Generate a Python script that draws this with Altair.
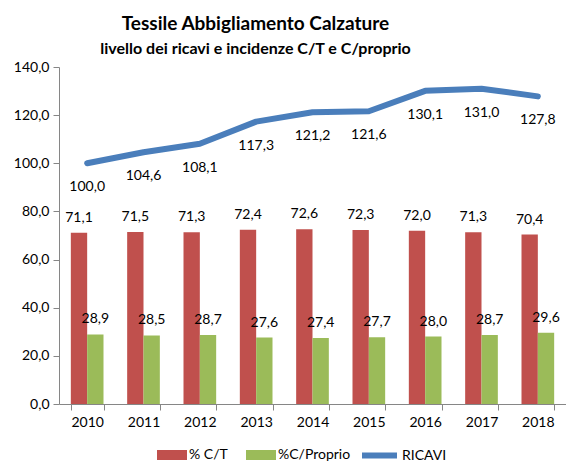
import altair as alt
import pandas as pd

years = ["2010", "2011", "2012", "2013", "2014", "2015", "2016", "2017", "2018"]
ct = [71.1, 71.5, 71.3, 72.4, 72.6, 72.3, 72.0, 71.3, 70.4]
cp = [28.9, 28.5, 28.7, 27.6, 27.4, 27.7, 28.0, 28.7, 29.6]
ricavi = [100.0, 104.6, 108.1, 117.3, 121.2, 121.6, 130.1, 131.0, 127.8]
bar_series = ["% C/T", "%C/Proprio"]
line_series = ["RICAVI"]

bars_df = pd.DataFrame({
    "year": years * 2,
    "serie": [bar_series[0]] * len(years) + [bar_series[1]] * len(years),
    "val": ct + cp,
})
line_df = pd.DataFrame({"year": years, "serie": line_series * len(years), "val": ricavi})

FONT = "Lato"
AX = "#868686"
LAB = "replace(format(datum.val,'.1f'),'.',',')"

x = alt.X("year:N", title=None,
          scale=alt.Scale(paddingInner=0.42, paddingOuter=0.21),
          axis=alt.Axis(labelAngle=0, tickBand="extent", domainColor=AX, tickColor=AX,
                        labelFontSize=14, labelFont=FONT, labelColor="#000",
                        labelPadding=5, tickSize=6))
y = alt.Y("val:Q", title=None,
          scale=alt.Scale(domain=[0, 140], nice=False),
          axis=alt.Axis(values=list(range(0, 141, 20)),
                        labelExpr="replace(format(datum.value,'.1f'),'.',',')",
                        grid=False, domainColor=AX, tickColor=AX, tickSize=6,
                        labelFontSize=14, labelFont=FONT, labelColor="#000",
                        labelPadding=4))
xoff = alt.XOffset("serie:N", sort=bar_series, scale=alt.Scale(paddingInner=0, paddingOuter=0))

bars = alt.Chart(bars_df).mark_bar().encode(
    x=x, xOffset=xoff, y=y,
    fill=alt.Fill("serie:N", sort=bar_series,
                  scale=alt.Scale(domain=bar_series, range=["#C0504D", "#9BBB59"]),
                  legend=alt.Legend(orient="none", legendX=98, legendY=373, direction="horizontal",
                                    title=None, symbolType="M-1,-0.3333H1V0.3333H-1Z",
                                    symbolSize=900, symbolStrokeWidth=0, labelFontSize=14,
                                    labelFont=FONT, labelColor="#000", labelOffset=2,
                                    columnPadding=18, symbolOpacity=1, padding=0)),
)
bar_text = alt.Chart(bars_df).transform_calculate(lab=LAB).mark_text(
    baseline="bottom", dy=-8, fontSize=14, font=FONT, color="#000"
).encode(x=x, xOffset=xoff, y=y, text="lab:N")

line = alt.Chart(line_df).mark_line(strokeWidth=6, strokeCap="round", strokeJoin="round").encode(
    x=x, y=y,
    stroke=alt.Stroke("serie:N",
                      scale=alt.Scale(domain=line_series, range=["#4A7EBB"]),
                      legend=alt.Legend(orient="none", legendX=300, legendY=368, direction="horizontal",
                                        title=None, symbolType="M-1,0H1", symbolSize=1225,
                                        symbolStrokeWidth=6, labelFontSize=14, labelFont=FONT,
                                        labelColor="#000", labelOffset=2, padding=0)),
)
line_text = alt.Chart(line_df).transform_calculate(lab=LAB).mark_text(
    baseline="middle", dy=24, fontSize=14, font=FONT, color="#000"
).encode(x=x, y=y, text="lab:N")

chart = alt.layer(bars, bar_text, line, line_text).properties(
    width=507, height=337,
    padding={"left": 51, "top": 59, "right": 0, "bottom": 58},
    autosize=alt.AutoSizeParams(type="none"),
    title=alt.TitleParams(text="Tessile Abbigliamento Calzature",
                          subtitle="livello dei ricavi e incidenze C/T e C/proprio",
                          font=FONT, subtitleFont=FONT, fontSize=19, subtitleFontSize=16,
                          fontWeight="bold", subtitleFontWeight="bold", color="#000",
                          subtitleColor="#000", anchor="middle", frame="group", dx=-57,
                          offset=3, subtitlePadding=7),
).configure_view(stroke=None)

chart.save("out.html", embed_options={"renderer": "svg", "actions": False})
